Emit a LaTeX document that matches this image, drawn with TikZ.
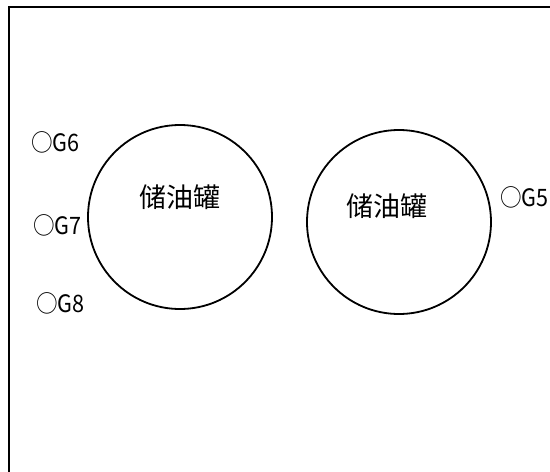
\documentclass[tikz,border=0pt]{standalone}
\usepackage{fontspec}
\setmainfont{Noto Sans CJK SC}
\newfontfamily\cjk{Noto Sans CJK SC}
\tikzset{
  tank/.style={draw, circle, line width=1.8pt, inner sep=0pt, minimum size=184pt},
  tanktext/.style={font=\cjk\fontsize{27}{27}\selectfont, inner sep=0pt},
  gauge/.style={font=\cjk\fontsize{24}{24}\selectfont, inner sep=0pt, anchor=west}
}
\newcommand{\gname}[1]{\scalebox{0.9}[1]{#1}}
\begin{document}
\begin{tikzpicture}[x=1pt, y=-1pt]
\pgfmathsetmacro{\W}{550}
\pgfmathsetmacro{\H}{472}
\useasboundingbox (0,0) rectangle (\W,\H);
\coordinate (frameB) at (9,\H);
\coordinate (frameC) at (9,7);
\coordinate (frameR) at (\W,7);
\draw[line width=2.4pt] (frameB)--(frameC)--(frameR);
\node[tank] (tankL) at (180,217) {};
\node[tank] (tankR) at (399,222) {};
\node[tanktext] (nameL) at (180,197) {储油罐};
\node[tanktext] (nameR) at (387,206) {储油罐};
\node[gauge] (g6) at (31,142) {\gname{○G6}};
\node[gauge] (g7) at (33,225) {\gname{○G7}};
\node[gauge] (g8) at (36,303) {\gname{○G8}};
\node[gauge, anchor=east] (g5) at (549,197) {\gname{○G5}};
\end{tikzpicture}
\end{document}
